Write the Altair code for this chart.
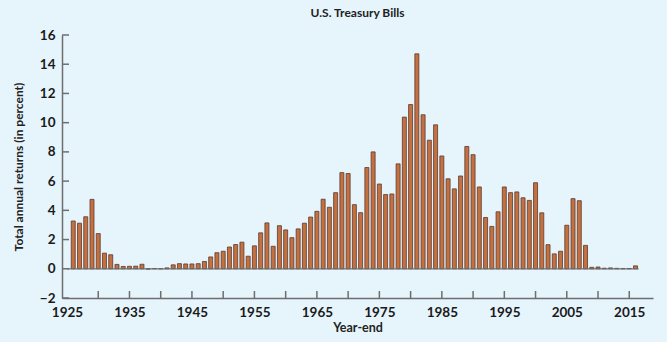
import altair as alt
import pandas as pd

years = list(range(1926, 2017))
returns = [
    3.27, 3.12, 3.56, 4.75, 2.41, 1.07, 0.96, 0.30, 0.16, 0.17,
    0.18, 0.31, -0.02, 0.02, 0.00, 0.06, 0.27, 0.35, 0.33, 0.33,
    0.35, 0.50, 0.81, 1.10, 1.20, 1.49, 1.66, 1.82, 0.86, 1.57,
    2.46, 3.14, 1.54, 2.95, 2.66, 2.13, 2.73, 3.12, 3.54, 3.93,
    4.76, 4.21, 5.21, 6.58, 6.52, 4.39, 3.84, 6.93, 8.00, 5.80,
    5.08, 5.12, 7.18, 10.38, 11.24, 14.71, 10.54, 8.80, 9.85, 7.72,
    6.16, 5.47, 6.35, 8.37, 7.81, 5.60, 3.51, 2.90, 3.90, 5.60,
    5.21, 5.26, 4.86, 4.68, 5.89, 3.83, 1.65, 1.02, 1.20, 2.98,
    4.80, 4.66, 1.60, 0.10, 0.12, 0.04, 0.06, 0.03, 0.02, 0.02,
    0.20,
]
x_label_years = [1925, 1935, 1945, 1955, 1965, 1975, 1985, 1995, 2005, 2015]
x_tick_years = list(range(1930, 2016, 5))
y_ticks = [-2, 0, 2, 4, 6, 8, 10, 12, 14, 16]

df = pd.DataFrame({"year": years, "ret": returns})

W, H = 591, 263
AXC = "#6e6e6e"
FONT = "Lato"

xscale = alt.Scale(domain=[1925, 2018], nice=False, zero=False)
yscale = alt.Scale(domain=[-2, 16], nice=False)

XAX = alt.Axis(values=x_label_years, format="d", title="Year-end",
               labelOverlap=False, labelFlush=False, labelBound=False,
               titleFontSize=12.5, titlePadding=3)
YAX = alt.Axis(values=y_ticks, format="d", title="Total annual returns (in percent)",
               labelOverlap=False, labelFlush=False, labelBound=False,
               titleFontSize=12, titlePadding=14)

bars = alt.Chart(df).mark_bar(
    size=4, color="#c4703f", stroke="#5a3a30", strokeWidth=0.8
).encode(
    x=alt.X("year:Q", scale=xscale, axis=XAX),
    y=alt.Y("ret:Q", scale=yscale, axis=YAX),
)

zero = alt.Chart(pd.DataFrame({"a": [1925], "b": [2016.5], "y": [0]})).mark_rule(
    color=AXC, strokeWidth=1.2
).encode(x=alt.X("a:Q", scale=xscale, axis=XAX), x2="b:Q",
         y=alt.Y("y:Q", scale=yscale, axis=YAX))

yt = alt.Chart(pd.DataFrame({"v": y_ticks})).mark_rule(color=AXC, strokeWidth=1.5).encode(
    y=alt.Y("v:Q", scale=yscale, axis=YAX), x=alt.value(0), x2=alt.value(7)
)

xt = alt.Chart(pd.DataFrame({"v": x_tick_years})).mark_rule(color=AXC, strokeWidth=1.5).encode(
    x=alt.X("v:Q", scale=xscale, axis=XAX), y=alt.value(H), y2=alt.value(H - 7)
)

chart = alt.layer(bars, zero, yt, xt).properties(
    width=W, height=H,
    title=alt.TitleParams("U.S. Treasury Bills", font=FONT, fontWeight="bold",
                          fontSize=12, color="#222222", offset=8),
    background="#e6f4fc",
    padding={"left": 62, "top": 35, "right": 14, "bottom": 44},
    autosize=alt.AutoSizeParams(type="none"),
).configure_view(stroke=None).configure_axis(
    tickSize=0, domainColor=AXC, domainWidth=1.5, grid=False,
    labelFont=FONT, labelFontWeight="bold", labelFontSize=13.5,
    labelColor="#1a1a1a", labelPadding=7,
    titleFont=FONT, titleFontWeight="bold", titleColor="#222222",
)

chart.save("out.html", embed_options={"renderer": "svg", "actions": False})
